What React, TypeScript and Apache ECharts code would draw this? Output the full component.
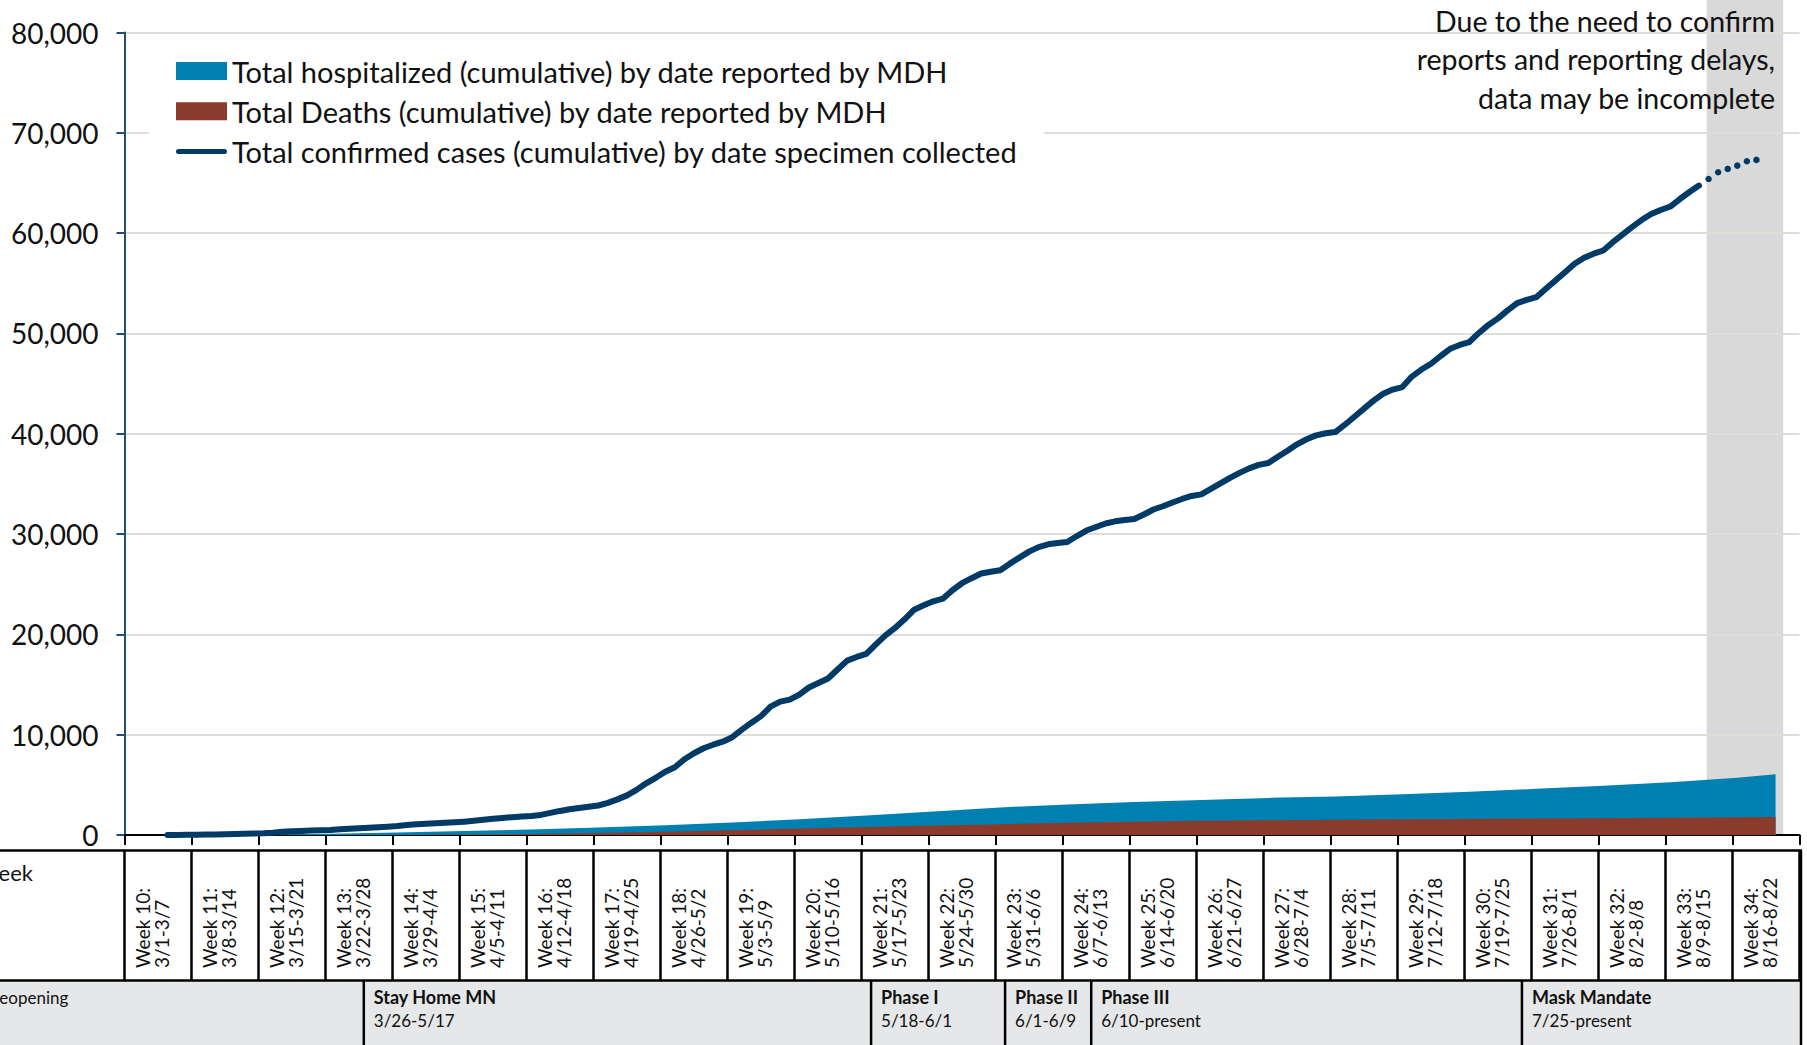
import React, { useEffect, useRef } from 'react';
import * as echarts from 'echarts';

// ---------- data ----------
const WEEK_LABELS = [
  'Week 10:\n3/1-3/7', 'Week 11:\n3/8-3/14', 'Week 12:\n3/15-3/21', 'Week 13:\n3/22-3/28',
  'Week 14:\n3/29-4/4', 'Week 15:\n4/5-4/11', 'Week 16:\n4/12-4/18', 'Week 17:\n4/19-4/25',
  'Week 18:\n4/26-5/2', 'Week 19:\n5/3-5/9', 'Week 20:\n5/10-5/16', 'Week 21:\n5/17-5/23',
  'Week 22:\n5/24-5/30', 'Week 23:\n5/31-6/6', 'Week 24:\n6/7-6/13', 'Week 25:\n6/14-6/20',
  'Week 26:\n6/21-6/27', 'Week 27:\n6/28-7/4', 'Week 28:\n7/5-7/11', 'Week 29:\n7/12-7/18',
  'Week 30:\n7/19-7/25', 'Week 31:\n7/26-8/1', 'Week 32:\n8/2-8/8', 'Week 33:\n8/9-8/15',
  'Week 34:\n8/16-8/22',
];
const DAYS_PER_WEEK = 7;

const Y_TICKS = [0, 10000, 20000, 30000, 40000, 50000, 60000, 70000, 80000];

// daily cumulative confirmed cases, day index 0 = 3/1
const CONFIRMED_FIRST_DAY = 4;
const CONFIRMED = [
  2, 5, 15,
  30, 45, 60, 80, 100, 125, 150,
  170, 230, 320, 380, 410, 440, 470,
  500, 570, 620, 680, 730, 780, 830,
  890, 1000, 1060, 1110, 1160, 1210, 1260,
  1330, 1420, 1510, 1610, 1700, 1780, 1850,
  1900, 2000, 2200, 2400, 2560, 2700, 2820,
  2940, 3200, 3550, 3950, 4500, 5150, 5700,
  6300, 6750, 7550, 8150, 8650, 9000, 9300,
  9750, 10500, 11200, 11850, 12800, 13300, 13500,
  14000, 14700, 15150, 15600, 16500, 17380, 17750,
  18050, 19000, 19900, 20640, 21500, 22460, 22900,
  23300, 23560, 24400, 25100, 25600, 26070, 26250,
  26400, 27050, 27650, 28250, 28700, 28980, 29100,
  29210, 29800, 30350, 30700, 31050, 31270, 31400,
  31500, 31950, 32450, 32770, 33150, 33500, 33800,
  33960, 34500, 35050, 35600, 36100, 36550, 36900,
  37080, 37700, 38300, 38950, 39450, 39840, 40050,
  40170, 40900, 41700, 42500, 43300, 43990, 44400,
  44650, 45700, 46400, 46980, 47750, 48470, 48850,
  49130, 50050, 50850, 51500, 52300, 53020, 53350,
  53610, 54450, 55280, 56100, 56950, 57550, 57950,
  58270, 59100, 59850, 60600, 61300, 61900, 62300,
  62650, 63400, 64100, 64740,
];
// provisional (incomplete) days shown dotted
const PROVISIONAL_FIRST_DAY = 165;
const PROVISIONAL = [65400, 66070, 66400, 66730, 67160, 67300];

const HOSP_DAYS = [4, 14, 21, 28, 35, 42, 49, 56, 63, 70, 77, 84, 91, 98, 105, 112, 119, 126, 133, 140, 147, 154, 161, 168, 172];
const HOSP = [5, 40, 120, 250, 400, 560, 760, 980, 1250, 1560, 1950, 2350, 2750, 3050, 3300, 3500, 3700, 3850, 4050, 4300, 4600, 4900, 5250, 5700, 6050];

const DEATH_DAYS = [20, 28, 35, 42, 49, 56, 63, 70, 77, 84, 91, 98, 105, 112, 119, 126, 133, 140, 147, 154, 161, 168, 172];
const DEATHS = [1, 12, 40, 90, 200, 330, 480, 640, 800, 950, 1080, 1220, 1330, 1410, 1470, 1520, 1560, 1600, 1640, 1680, 1720, 1770, 1790];

const INCOMPLETE_RANGE = [165.3, 173.3];

const PHASE_TITLES = ['Stay Home MN', 'Phase I', 'Phase II', 'Phase III', 'Mask Mandate'];
const PHASE_DATES = ['3/26-5/17', '5/18-6/1', '6/1-6/9', '6/10-present', '7/25-present'];
const PHASE_START_DAYS = [25, 78, 92, 101, 146];

const NAME_HOSP = 'Total hospitalized (cumulative) by date reported by MDH';
const NAME_DEATHS = 'Total Deaths (cumulative) by date reported by MDH';
const NAME_CASES = 'Total confirmed cases (cumulative) by date specimen collected';
const NOTE = 'Due to the need to confirm\nreports and reporting delays,\ndata may be incomplete';

// ---------- style ----------
const W = 1807;
const H = 1045;
const FONT = 'Lato, "Noto Sans", sans-serif';
const C_HOSP = '#0080B1';
const C_DEATH = '#8B3B2C';
const C_CASES = '#003A66';
const C_AXIS_Y = '#1F4E79';
const TABLE_TOP = 850.5;
const ROW_SPLIT = 980.5;
const TABLE_BOTTOM = 1050;

function buildOption(): any {
  const center = (d: number) => d + 0.5;
  const cases = CONFIRMED.map((v, i) => [center(CONFIRMED_FIRST_DAY + i), v]);
  const prov = PROVISIONAL.map((v, i) => [center(PROVISIONAL_FIRST_DAY + i), v]);
  const hosp = HOSP.map((v, i) => [center(HOSP_DAYS[i]), v]);
  const deaths = DEATHS.map((v, i) => [center(DEATH_DAYS[i]), v]);
  const xMax = WEEK_LABELS.length * DAYS_PER_WEEK;
  return {
    animation: false,
    backgroundColor: '#ffffff',
    grid: { left: 124.5, top: 32.5, width: 1675, height: 802.5, containLabel: false },
    xAxis: {
      type: 'value', min: 0, max: xMax, interval: DAYS_PER_WEEK,
      axisLine: { show: true, lineStyle: { color: '#000', width: 2 } },
      axisTick: { show: true, length: 10, lineStyle: { color: '#000', width: 2 } },
      axisLabel: { show: false },
      splitLine: { show: false },
    },
    yAxis: {
      type: 'value', min: Y_TICKS[0], max: Y_TICKS[Y_TICKS.length - 1], interval: Y_TICKS[1] - Y_TICKS[0],
      axisLine: { show: true, lineStyle: { color: C_AXIS_Y, width: 2 } },
      axisTick: { show: true, length: 8, lineStyle: { color: C_AXIS_Y, width: 2 } },
      axisLabel: {
        formatter: (v: number) => v.toLocaleString('en-US'),
        fontFamily: FONT, fontSize: 28, color: '#111', margin: 26,
      },
      splitLine: { show: true, lineStyle: { color: '#DEDED9', width: 2 } },
    },
    legend: {
      orient: 'vertical', left: 149, top: 40,
      padding: [16, 27, 16, 27],
      backgroundColor: '#ffffff',
      itemWidth: 51, itemHeight: 18, itemGap: 10.3,
      selectedMode: false,
      textStyle: { fontFamily: FONT, fontSize: 29, color: '#111', lineHeight: 30 },
      data: [
        { name: NAME_HOSP, icon: 'rect' },
        { name: NAME_DEATHS, icon: 'rect' },
        { name: NAME_CASES, icon: 'path://M2.5,0 H48.5 A2.5,2.5 0 0 1 48.5,5 H2.5 A2.5,2.5 0 0 1 2.5,0 Z' },
      ],
    },
    series: [
      {
        name: NAME_HOSP, type: 'line', data: hosp, symbol: 'none', showSymbol: false,
        lineStyle: { width: 0 }, itemStyle: { color: C_HOSP },
        areaStyle: { color: C_HOSP, opacity: 1 }, z: 2,
      },
      {
        name: NAME_DEATHS, type: 'line', data: deaths, symbol: 'none', showSymbol: false,
        lineStyle: { width: 0 }, itemStyle: { color: C_DEATH },
        areaStyle: { color: C_DEATH, opacity: 1 }, z: 3,
      },
      {
        name: NAME_CASES, type: 'line', data: cases, symbol: 'none', showSymbol: false,
        lineStyle: { width: 6, color: C_CASES, cap: 'round', join: 'round' },
        itemStyle: { color: C_CASES }, z: 4,
      },
      {
        name: 'provisional', type: 'line', data: prov, symbol: 'circle', symbolSize: 6.5, showSymbol: true,
        lineStyle: { width: 0, opacity: 0 }, itemStyle: { color: C_CASES }, z: 4,
      },
    ],
  };
}

function buildGraphic(xp: (v: number) => number, yp: (v: number) => number): any[] {
  const els: any[] = [];
  const xMax = WEEK_LABELS.length * DAYS_PER_WEEK;
  const right = xp(xMax) + 1.5;
  const y0 = yp(0);
  const line = (x1: number, y1: number, x2: number, y2: number, w = 2.5) => ({
    type: 'line', z: 20, shape: { x1, y1, x2, y2 }, style: { stroke: '#000', lineWidth: w },
  });

  // incomplete-data band
  const bx1 = xp(INCOMPLETE_RANGE[0]);
  const bx2 = xp(INCOMPLETE_RANGE[1]);
  els.push({ type: 'rect', z: -1, shape: { x: bx1, y: 0, width: bx2 - bx1, height: y0 }, style: { fill: '#D9D9D9' } });

  // note
  els.push({
    type: 'text', z: 30, x: 1775, y: 1.5,
    style: { text: NOTE, align: 'right', verticalAlign: 'top', fontFamily: FONT, fontSize: 28.5, lineHeight: 38.6, fill: '#111' },
  });

  // table backgrounds
  els.push({ type: 'rect', z: 15, shape: { x: -5, y: TABLE_TOP, width: right + 5, height: ROW_SPLIT - TABLE_TOP }, style: { fill: '#ffffff' } });
  els.push({ type: 'rect', z: 15, shape: { x: -5, y: ROW_SPLIT, width: right + 5, height: TABLE_BOTTOM - ROW_SPLIT }, style: { fill: '#E6E7E8' } });
  els.push(line(-5, TABLE_TOP, right + 1, TABLE_TOP));
  els.push(line(-5, ROW_SPLIT, right + 1, ROW_SPLIT));
  els.push(line(right, TABLE_TOP, right, TABLE_BOTTOM));

  // week row (row header is cut by the left edge, as in the source)
  els.push({
    type: 'text', z: 25, x: -23, y: 872,
    style: { text: 'Week', align: 'left', verticalAlign: 'middle', fontFamily: FONT, fontSize: 22, fill: '#111' },
  });
  for (let k = 0; k <= WEEK_LABELS.length; k++) {
    const x = xp(k * DAYS_PER_WEEK);
    els.push(line(x, TABLE_TOP, x, ROW_SPLIT));
  }
  WEEK_LABELS.forEach((lab, k) => {
    const x = xp(k * DAYS_PER_WEEK);
    els.push({
      type: 'text', z: 25, x: x + 8.5, y: 968, rotation: Math.PI / 2,
      style: { text: lab, align: 'left', verticalAlign: 'top', fontFamily: FONT, fontSize: 19, lineHeight: 19, fill: '#111' },
    });
  });

  // phase row
  els.push({
    type: 'text', z: 25, x: -6.5, y: 997,
    style: { text: 'reopening', align: 'left', verticalAlign: 'middle', fontFamily: FONT, fontSize: 17, fill: '#111' },
  });
  PHASE_START_DAYS.forEach((d, i) => {
    const x = xp(d);
    els.push(line(x, ROW_SPLIT, x, TABLE_BOTTOM));
    els.push({
      type: 'text', z: 25, x: x + 10, y: 997,
      style: { text: PHASE_TITLES[i], align: 'left', verticalAlign: 'middle', fontFamily: FONT, fontSize: 18, fontWeight: 'bold', fill: '#111' },
    });
    els.push({
      type: 'text', z: 25, x: x + 10, y: 1020,
      style: { text: PHASE_DATES[i], align: 'left', verticalAlign: 'middle', fontFamily: FONT, fontSize: 17, fill: '#111' },
    });
  });
  return els;
}

export default function App() {
  const ref = useRef<HTMLDivElement>(null);
  useEffect(() => {
    const el = ref.current;
    if (!el) return;
    const chart = echarts.init(el, null, { renderer: 'svg' });
    chart.setOption(buildOption());
    const xp = (v: number) => chart.convertToPixel({ xAxisIndex: 0 } as any, v) as unknown as number;
    const yp = (v: number) => chart.convertToPixel({ yAxisIndex: 0 } as any, v) as unknown as number;
    chart.setOption({ graphic: { elements: buildGraphic(xp, yp) } });
    return () => chart.dispose();
  }, []);
  return (
    <div
      ref={ref}
      style={{ position: 'absolute', left: 0, top: 0, width: W, height: H, overflow: 'hidden', background: '#fff' }}
    />
  );
}
